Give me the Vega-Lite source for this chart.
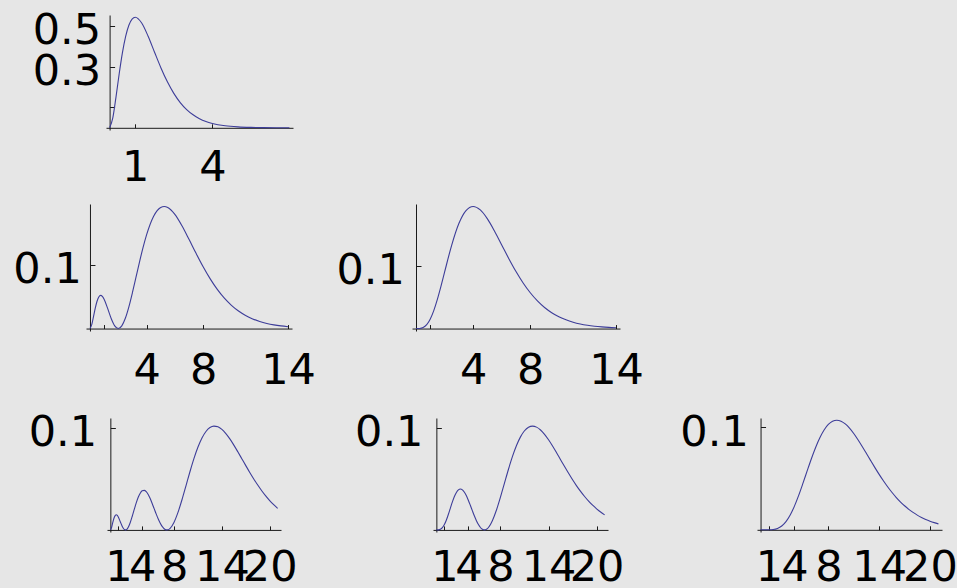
{
  "$schema": "https://vega.github.io/schema/vega-lite/v6.json",
  "background": "#e6e6e6",
  "padding": 0,
  "spacing": 0,
  "config": {
    "view": {"stroke": null},
    "axis": {"grid": false, "domainColor": "#1a1a1a", "domainWidth": 1, "tickColor": "#1a1a1a", "tickWidth": 1, "labelFont": "DejaVu Sans", "labelFontSize": 43, "labelColor": "#000000", "labelOverlap": false, "labelFlush": false, "labelBound": false},
    "axisX": {"tickSize": -4, "labelBaseline": "top", "labelAlign": "center", "format": "d"},
    "axisY": {"tickSize": -5, "labelBaseline": "middle", "labelAlign": "right", "format": ".1f", "labelOffset": 4.7},
    "line": {"color": "#3d3d99", "strokeWidth": 1.1, "interpolate": "monotone"}
  },
  "datasets": {
    "s1": [{"r":0,"p":0},{"r":0.125,"p":0.04868},{"r":0.25,"p":0.15163},{"r":0.375,"p":0.26571},{"r":0.5,"p":0.36788},{"r":0.625,"p":0.44766},{"r":0.75,"p":0.50204},{"r":0.875,"p":0.53218},{"r":1,"p":0.54134},{"r":1.25,"p":0.51303},{"r":1.5,"p":0.44808},{"r":1.75,"p":0.36992},{"r":2,"p":0.29305},{"r":2.25,"p":0.22496},{"r":2.5,"p":0.16845},{"r":2.75,"p":0.12363},{"r":3,"p":0.08924},{"r":3.25,"p":0.06352},{"r":3.5,"p":0.04468},{"r":3.75,"p":0.03111},{"r":4,"p":0.02147},{"r":4.5,"p":0.01},{"r":5,"p":0.00454},{"r":5.5,"p":0.00202},{"r":6,"p":0.00088},{"r":6.5,"p":0.00038},{"r":7,"p":0.00016}],
    "s2": [{"r":0,"p":0},{"r":0.125,"p":0.0060596},{"r":0.25,"p":0.018634},{"r":0.375,"p":0.031902},{"r":0.5,"p":0.042647},{"r":0.625,"p":0.049413},{"r":0.75,"p":0.051896},{"r":0.875,"p":0.050492},{"r":1,"p":0.045985},{"r":1.25,"p":0.031477},{"r":1.5,"p":0.015689},{"r":1.75,"p":0.0041578},{"r":2,"p":0},{"r":2.25,"p":0.0041686},{"r":2.5,"p":0.016032},{"r":2.75,"p":0.033993},{"r":3,"p":0.05601},{"r":3.25,"p":0.07999},{"r":3.5,"p":0.10404},{"r":3.75,"p":0.1266},{"r":4,"p":0.14653},{"r":4.5,"p":0.17575},{"r":4.75,"p":0.18453},{"r":5,"p":0.1895},{"r":5.25,"p":0.19096},{"r":5.5,"p":0.1893},{"r":6,"p":0.17847},{"r":6.5,"p":0.16078},{"r":7,"p":0.13963},{"r":7.5,"p":0.11764},{"r":8,"p":0.096612},{"r":8.5,"p":0.077639},{"r":9,"p":0.061227},{"r":9.5,"p":0.047499},{"r":10,"p":0.03632},{"r":10.5,"p":0.027417},{"r":11,"p":0.020462},{"r":11.5,"p":0.015113},{"r":12,"p":0.01106},{"r":12.5,"p":0.0080247},{"r":13,"p":0.0057777},{"r":13.5,"p":0.0041305},{"r":14,"p":0.0029336}],
    "s3": [{"r":0,"p":0},{"r":0.25,"p":0.000127},{"r":0.5,"p":0.0015795},{"r":0.75,"p":0.0062275},{"r":1,"p":0.015328},{"r":1.25,"p":0.029145},{"r":1.5,"p":0.047067},{"r":1.75,"p":0.067909},{"r":2,"p":0.090223},{"r":2.5,"p":0.1336},{"r":3,"p":0.16803},{"r":3.5,"p":0.18881},{"r":4,"p":0.19537},{"r":4.5,"p":0.18981},{"r":5,"p":0.17547},{"r":5.5,"p":0.15582},{"r":6,"p":0.13386},{"r":6.5,"p":0.11182},{"r":7,"p":0.091226},{"r":7.5,"p":0.072916},{"r":8,"p":0.057252},{"r":8.5,"p":0.044255},{"r":9,"p":0.033737},{"r":9.5,"p":0.025403},{"r":10,"p":0.018917},{"r":10.5,"p":0.013946},{"r":11,"p":0.010189},{"r":11.5,"p":0.0073823},{"r":12,"p":0.0053087},{"r":12.5,"p":0.0037909},{"r":13,"p":0.0026899},{"r":13.5,"p":0.0018974},{"r":14,"p":0.001331}],
    "s4": [{"r":0,"p":0},{"r":0.125,"p":0.0017941},{"r":0.25,"p":0.0055036},{"r":0.375,"p":0.0093818},{"r":0.5,"p":0.012459},{"r":0.625,"p":0.014302},{"r":0.75,"p":0.01483},{"r":0.875,"p":0.014184},{"r":1,"p":0.012625},{"r":1.25,"p":0.0080233},{"r":1.5,"p":0.0034063},{"r":1.625,"p":0.0016689},{"r":1.75,"p":0.00051177},{"r":1.875,"p":0.0000162},{"r":2,"p":0.00021427},{"r":2.125,"p":0.0010956},{"r":2.25,"p":0.0026148},{"r":2.5,"p":0.0072569},{"r":2.75,"p":0.013365},{"r":3,"p":0.02005},{"r":3.25,"p":0.02647},{"r":3.5,"p":0.031926},{"r":3.75,"p":0.035924},{"r":4,"p":0.038182},{"r":4.25,"p":0.038622},{"r":4.5,"p":0.03734},{"r":4.75,"p":0.034569},{"r":5,"p":0.03063},{"r":5.25,"p":0.025903},{"r":5.5,"p":0.020781},{"r":5.75,"p":0.015649},{"r":6,"p":0.010854},{"r":6.25,"p":0.0066942},{"r":6.5,"p":0.0034087},{"r":6.75,"p":0.0011717},{"r":7,"p":0.0000936},{"r":7.25,"p":0.00022452},{"r":7.5,"p":0.0015597},{"r":8,"p":0.0075979},{"r":8.5,"p":0.017384},{"r":9,"p":0.029746},{"r":9.5,"p":0.043398},{"r":10,"p":0.057129},{"r":10.5,"p":0.06992},{"r":11,"p":0.080993},{"r":11.5,"p":0.089843},{"r":12,"p":0.096215},{"r":12.5,"p":0.10007},{"r":13,"p":0.10151},{"r":13.5,"p":0.1008},{"r":14,"p":0.098228},{"r":14.5,"p":0.094161},{"r":15,"p":0.08895},{"r":15.5,"p":0.082925},{"r":16,"p":0.076397},{"r":16.5,"p":0.069628},{"r":17,"p":0.062835},{"r":17.5,"p":0.056196},{"r":18,"p":0.049842},{"r":18.5,"p":0.043868},{"r":19,"p":0.038335},{"r":19.5,"p":0.03328},{"r":20,"p":0.028712},{"r":20.5,"p":0.024629},{"r":21,"p":0.021013}],
    "s5": [{"r":0,"p":0},{"r":0.25,"p":0.0000444},{"r":0.5,"p":0.00055061},{"r":0.75,"p":0.0021499},{"r":1,"p":0.0052168},{"r":1.25,"p":0.00973},{"r":1.5,"p":0.015328},{"r":1.75,"p":0.021441},{"r":2,"p":0.027427},{"r":2.25,"p":0.032685},{"r":2.5,"p":0.036734},{"r":2.75,"p":0.039255},{"r":3,"p":0.040099},{"r":3.25,"p":0.039285},{"r":3.5,"p":0.036966},{"r":3.75,"p":0.033401},{"r":4,"p":0.028919},{"r":4.25,"p":0.023885},{"r":4.5,"p":0.01867},{"r":4.75,"p":0.013625},{"r":5,"p":0.0090622},{"r":5.25,"p":0.0052447},{"r":5.5,"p":0.0023767},{"r":5.75,"p":0.00060085},{"r":6,"p":0},{"r":6.25,"p":0.00060096},{"r":6.5,"p":0.0023805},{"r":6.75,"p":0.0052725},{"r":7,"p":0.0091766},{"r":7.5,"p":0.019496},{"r":8,"p":0.03215},{"r":8.5,"p":0.045872},{"r":9,"p":0.059492},{"r":9.5,"p":0.072027},{"r":10,"p":0.082759},{"r":10.5,"p":0.091226},{"r":11,"p":0.097204},{"r":11.5,"p":0.10067},{"r":12,"p":0.10178},{"r":12.5,"p":0.10077},{"r":13,"p":0.097967},{"r":13.5,"p":0.093715},{"r":14,"p":0.088363},{"r":14.5,"p":0.082247},{"r":15,"p":0.075667},{"r":15.5,"p":0.068875},{"r":16,"p":0.062088},{"r":16.5,"p":0.055473},{"r":17,"p":0.049156},{"r":17.5,"p":0.043229},{"r":18,"p":0.03775},{"r":18.5,"p":0.03275},{"r":19,"p":0.028238},{"r":19.5,"p":0.024209},{"r":20,"p":0.020644},{"r":20.5,"p":0.017514},{"r":21,"p":0.014789}],
    "s6": [{"r":0,"p":0},{"r":0.5,"p":0.00000091},{"r":1,"p":0.000041735},{"r":1.5,"p":0.00034063},{"r":2,"p":0.0013713},{"r":2.5,"p":0.0037484},{"r":3,"p":0.0080198},{"r":3.5,"p":0.014491},{"r":4,"p":0.023135},{"r":4.5,"p":0.033606},{"r":5,"p":0.045311},{"r":5.5,"p":0.057515},{"r":6,"p":0.069464},{"r":6.5,"p":0.080459},{"r":7,"p":0.08993},{"r":7.5,"p":0.097481},{"r":8,"p":0.10288},{"r":8.5,"p":0.10605},{"r":9,"p":0.10708},{"r":9.5,"p":0.10613},{"r":10,"p":0.10345},{"r":10.5,"p":0.099336},{"r":11,"p":0.094094},{"r":11.5,"p":0.088028},{"r":12,"p":0.081424},{"r":12.5,"p":0.074537},{"r":13,"p":0.067577},{"r":13.5,"p":0.060727},{"r":14,"p":0.054122},{"r":14.5,"p":0.047868},{"r":15,"p":0.042037},{"r":15.5,"p":0.036669},{"r":16,"p":0.031789},{"r":16.5,"p":0.027396},{"r":17,"p":0.023481},{"r":17.5,"p":0.020021},{"r":18,"p":0.016987},{"r":18.5,"p":0.014347},{"r":19,"p":0.012064},{"r":19.5,"p":0.010102},{"r":20,"p":0.0084259},{"r":20.5,"p":0.0070016},{"r":21,"p":0.0057973}]
  },
  "vconcat": [
    {"data": {"values": []}, "mark": "point", "encoding": {}, "width": 1, "height": 8.74},
    {"hconcat": [
      {"data": {"values": []}, "mark": "point", "encoding": {}, "width": 105.7, "height": 1},
      {"data": {"name": "s1"}, "mark": "line", "width": 187, "height": 115,
       "encoding": {
         "x": {"field": "r", "type": "quantitative", "scale": {"domain": [-0.14, 7.14], "nice": false, "zero": false}, "axis": {"title": null, "values": [1, 4], "offset": -2.2, "labelPadding": 22.7}},
         "y": {"field": "p", "type": "quantitative", "scale": {"domain": [-0.0108, 0.5521], "nice": false, "zero": false}, "axis": {"title": null, "values": [0.1, 0.3, 0.5], "offset": -3.6, "labelPadding": 14, "labelExpr": "datum.value < 0.2 ? '' : datum.label"}}
       }}
    ], "spacing": 0, "bounds": "flush"},
    {"data": {"values": []}, "mark": "point", "encoding": {}, "width": 1, "height": 13.6},
    {"hconcat": [
      {"data": {"values": []}, "mark": "point", "encoding": {}, "width": 85.8, "height": 1},
      {"data": {"name": "s2"}, "mark": "line", "width": 206, "height": 127,
       "encoding": {
         "x": {"field": "r", "type": "quantitative", "scale": {"domain": [-0.28, 14.28], "nice": false, "zero": false}, "axis": {"title": null, "values": [1, 4, 8, 14], "offset": -2.44, "labelPadding": 25.4, "labelExpr": "datum.value == 1 ? '' : datum.label"}},
         "y": {"field": "p", "type": "quantitative", "scale": {"domain": [-0.00382, 0.1948], "nice": false, "zero": false}, "axis": {"title": null, "values": [0.1], "offset": -3.96, "labelPadding": 13.7}}
       }},
      {"data": {"values": []}, "mark": "point", "encoding": {}, "width": 119.9, "height": 1},
      {"data": {"name": "s3"}, "mark": "line", "width": 208, "height": 127,
       "encoding": {
         "x": {"field": "r", "type": "quantitative", "scale": {"domain": [-0.28, 14.28], "nice": false, "zero": false}, "axis": {"title": null, "values": [1, 4, 8, 14], "offset": -2.44, "labelPadding": 25.4, "labelExpr": "datum.value == 1 ? '' : datum.label"}},
         "y": {"field": "p", "type": "quantitative", "scale": {"domain": [-0.0039, 0.1993], "nice": false, "zero": false}, "axis": {"title": null, "values": [0.1], "offset": -4.0, "labelPadding": 16.7}}
       }}
    ], "spacing": 0, "bounds": "flush"},
    {"data": {"values": []}, "mark": "point", "encoding": {}, "width": 1, "height": 17.2},
    {"hconcat": [
      {"data": {"values": []}, "mark": "point", "encoding": {}, "width": 106.2, "height": 1},
      {"data": {"name": "s4"}, "mark": "line", "width": 174, "height": 114,
       "encoding": {
         "x": {"field": "r", "type": "quantitative", "scale": {"domain": [-0.42, 21.42], "nice": false, "zero": false}, "axis": {"title": null, "values": [1, 4, 8, 14, 20], "offset": -2.08, "labelPadding": 20.8}},
         "y": {"field": "p", "type": "quantitative", "scale": {"domain": [-0.00203, 0.10941], "nice": false, "zero": false}, "axis": {"title": null, "values": [0.1], "offset": -3.35, "labelPadding": 18.7}}
       }},
      {"data": {"values": []}, "mark": "point", "encoding": {}, "width": 151.8, "height": 1},
      {"data": {"name": "s5"}, "mark": "line", "width": 175, "height": 114,
       "encoding": {
         "x": {"field": "r", "type": "quantitative", "scale": {"domain": [-0.42, 21.42], "nice": false, "zero": false}, "axis": {"title": null, "values": [1, 4, 8, 14, 20], "offset": -2.08, "labelPadding": 20.8}},
         "y": {"field": "p", "type": "quantitative", "scale": {"domain": [-0.00204, 0.10972], "nice": false, "zero": false}, "axis": {"title": null, "values": [0.1], "offset": -3.37, "labelPadding": 18.4}}
       }},
      {"data": {"values": []}, "mark": "point", "encoding": {}, "width": 148.5, "height": 1},
      {"data": {"name": "s6"}, "mark": "line", "width": 185, "height": 114,
       "encoding": {
         "x": {"field": "r", "type": "quantitative", "scale": {"domain": [-0.42, 21.42], "nice": false, "zero": false}, "axis": {"title": null, "values": [1, 4, 8, 14, 20], "offset": -2.19, "labelPadding": 20.8}},
         "y": {"field": "p", "type": "quantitative", "scale": {"domain": [-0.00214, 0.10922], "nice": false, "zero": false}, "axis": {"title": null, "values": [0.1], "offset": -3.56, "labelPadding": 17.3}}
       }}
    ], "spacing": 0, "bounds": "flush"}
  ]
}
